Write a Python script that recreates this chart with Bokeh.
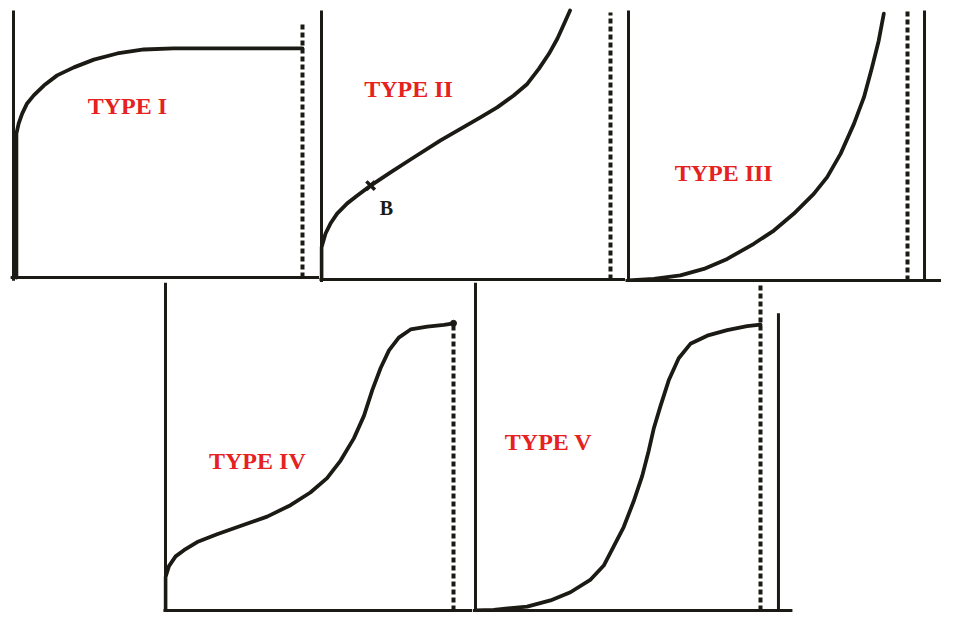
from bokeh.plotting import figure
from bokeh.models import Range1d, Span, Spacer
from bokeh.layouts import column, row
from bokeh.embed import file_html
from bokeh.resources import INLINE
from bokeh.core.properties import value

# ---- data: relative pressure P/P0 (x) vs amount adsorbed (y, arbitrary units) ----
type1_p = [0.010, 0.010, 0.018, 0.030, 0.047, 0.070, 0.105, 0.151, 0.209, 0.278, 0.359, 0.451, 0.554, 1.0]
type1_n = [0.0, 0.539, 0.577, 0.614, 0.652, 0.682, 0.719, 0.757, 0.787, 0.816, 0.839, 0.854, 0.858, 0.858]

type2_p = [0.0, 0.0, 0.014, 0.031, 0.054, 0.089, 0.124, 0.170, 0.239, 0.308, 0.412, 0.481,
           0.550, 0.608, 0.665, 0.712, 0.752, 0.787, 0.816, 0.838, 0.860]
type2_n = [0.0, 0.119, 0.171, 0.208, 0.245, 0.283, 0.312, 0.349, 0.398, 0.446, 0.517, 0.560,
           0.603, 0.640, 0.684, 0.727, 0.783, 0.839, 0.895, 0.947, 1.0]
point_b_p = [0.170]
point_b_n = [0.349]

type3_p = [0.0, 0.091, 0.186, 0.270, 0.354, 0.449, 0.521, 0.592, 0.664, 0.712, 0.760, 0.808,
           0.844, 0.873, 0.897, 0.915]
type3_n = [0.0, 0.006, 0.019, 0.043, 0.080, 0.136, 0.185, 0.247, 0.321, 0.383, 0.469, 0.580,
           0.679, 0.790, 0.889, 0.988]

type4_p = [0.0, 0.0, 0.012, 0.035, 0.064, 0.110, 0.179, 0.260, 0.353, 0.434, 0.503, 0.561, 0.608,
           0.654, 0.689, 0.718, 0.747, 0.776, 0.810, 0.851, 0.909, 0.967, 1.0]
type4_n = [0.0, 0.102, 0.136, 0.166, 0.185, 0.210, 0.234, 0.259, 0.288, 0.323, 0.362, 0.406, 0.460,
           0.528, 0.597, 0.676, 0.744, 0.798, 0.837, 0.862, 0.871, 0.876, 0.881]

type5_p = [0.0, 0.064, 0.181, 0.263, 0.333, 0.404, 0.450, 0.485, 0.520, 0.555, 0.585, 0.608, 0.626,
           0.649, 0.678, 0.713, 0.754, 0.813, 0.883, 0.953, 1.0]
type5_n = [0.0, 0.002, 0.012, 0.031, 0.056, 0.095, 0.138, 0.197, 0.256, 0.335, 0.413, 0.491, 0.560,
           0.627, 0.706, 0.774, 0.818, 0.843, 0.860, 0.872, 0.877]

type_labels = ["TYPE I", "TYPE II", "TYPE III", "TYPE IV", "TYPE V"]
label_p = [0.394, 0.301, 0.341, 0.319, 0.256]
label_n = [0.644, 0.710, 0.400, 0.459, 0.516]
# height reached by the dashed saturation line (P/P0 = 1) in each panel
sat_top = [0.955, 0.993, 1.0, 0.881, 1.0]

INK = "#1b1a14"
RED = "#e5221f"


def panel(left, top, w, h, ox, oy, sx, sy):
    p = figure(width=w, height=h, output_backend="svg", toolbar_location=None,
               x_range=Range1d((left - ox) / sx, (left + w - ox) / sx),
               y_range=Range1d((oy - (top + h)) / sy, (oy - top) / sy),
               min_border=0, outline_line_color=None,
               background_fill_color="white", border_fill_color="white")
    p.axis.visible = False
    p.grid.visible = False
    return p


def add_common(p, i, px, ny):
    p.segment(x0=[1.0], y0=[0.0], x1=[1.0], y1=[sat_top[i]], line_color=INK,
              line_width=4, line_dash="5 3")
    p.line(px, ny, line_color=INK, line_width=3.8, line_join="round", line_cap="round")
    p.text(x=[label_p[i]], y=[label_n[i]], text=[type_labels[i]], text_color=RED,
           text_font=value("Liberation Serif"), text_font_style="bold",
           text_font_size="24px", text_align="center", text_baseline="middle")


def top_axes(p, x_start):
    p.segment(x0=[0.0], y0=[-0.012], x1=[0.0], y1=[1.0], line_color=INK, line_width=3)
    p.segment(x0=[x_start], y0=[0.0], x1=[2.0], y1=[0.0], line_color=INK, line_width=3)


# top row (screen y 0..282)
p1 = panel(0, 0, 319, 282, 13, 277, 289, 267)
top_axes(p1, -0.01)
add_common(p1, 0, type1_p, type1_n)

p2 = panel(319, 0, 306, 282, 321, 279, 289, 269)
top_axes(p2, -0.1)
add_common(p2, 1, type2_p, type2_n)
p2.scatter(point_b_p, point_b_n, marker="x", size=12, line_color=INK, line_width=3.5)
p2.text(x=[point_b_p[0] + 0.055], y=[point_b_n[0] - 0.085], text=["B"], text_color=INK,
        text_font=value("Liberation Serif"), text_font_style="bold",
        text_font_size="20px", text_align="center", text_baseline="middle")

p3 = panel(625, 0, 316, 282, 628, 280, 279, 270)
top_axes(p3, -0.1)
add_common(p3, 2, type3_p, type3_n)
p3.segment(x0=[1.061], y0=[0.0], x1=[1.061], y1=[1.0], line_color=INK, line_width=3)

# bottom row (screen y 282..612)
p4 = panel(163, 282, 309, 330, 165, 610, 288, 326)
p4.add_layout(Span(location=0, dimension="height", line_color=INK, line_width=3))
p4.segment(x0=[-0.01], y0=[0.0], x1=[2.0], y1=[0.0], line_color=INK, line_width=3)
add_common(p4, 3, type4_p, type4_n)
p4.scatter([1.0], [sat_top[3]], marker="circle", size=6, color=INK)

p5 = panel(472, 282, 469, 330, 475, 610, 285, 326)
p5.add_layout(Span(location=0, dimension="height", line_color=INK, line_width=3))
p5.segment(x0=[-0.01], y0=[0.0], x1=[1.112], y1=[0.0], line_color=INK, line_width=3)
p5.segment(x0=[1.063], y0=[0.0], x1=[1.063], y1=[0.912], line_color=INK, line_width=3)
add_common(p5, 4, type5_p, type5_n)

layout = column(row(p1, p2, p3), row(Spacer(width=163, height=330), p4, p5))

open("out.html", "w").write(file_html(layout, INLINE))
